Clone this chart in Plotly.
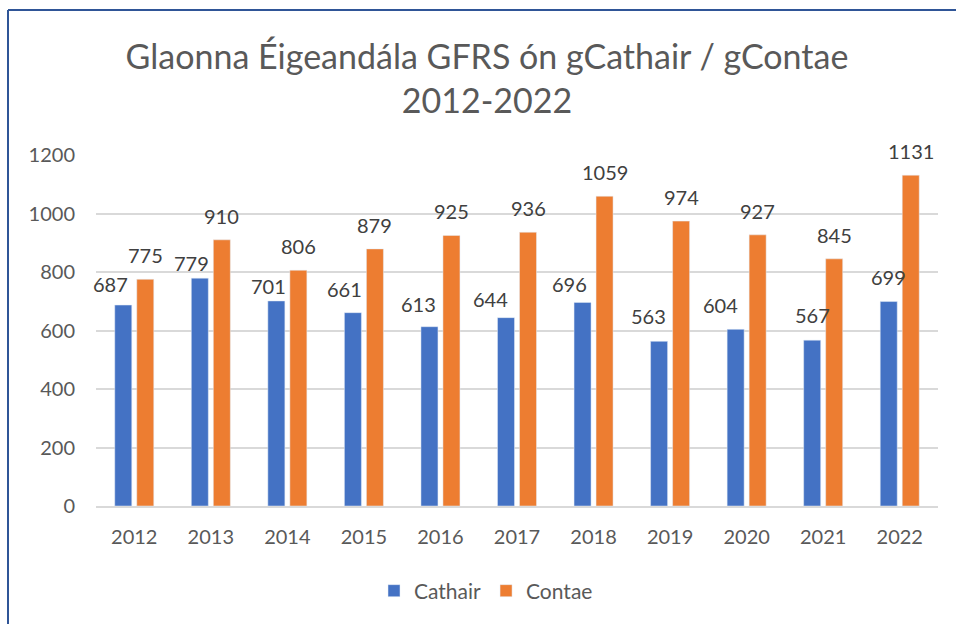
import plotly.graph_objects as go

# Emergency calls handled by GFRS, city vs county, 2012-2022
years = ["2012", "2013", "2014", "2015", "2016", "2017", "2018", "2019", "2020", "2021", "2022"]
cathair = [687, 779, 701, 661, 613, 644, 696, 563, 604, 567, 699]
contae = [775, 910, 806, 879, 925, 936, 1059, 974, 927, 845, 1131]

y_ticks = [0, 200, 400, 600, 800, 1000, 1200]

# small label nudges (pixels) for the Cathair value labels
cathair_dx = [-13, -8, -8, -8, -11, -16, -13, -11, -15, 0, 0]
cathair_dy = [-3, -9, -9, 0, -1, -5, -6, 1, 0, 1, 1]

BLUE = "#4472C4"
ORANGE = "#ED7D31"
FONT = "Lato"

W, H = 956, 624
ML, MR, MT, MB = 96, 18, 155, 118
PW, PH = W - ML - MR, H - MT - MB

fig = go.Figure()
fig.add_trace(go.Bar(name="Cathair", x=years, y=cathair, marker_color=BLUE))
fig.add_trace(go.Bar(name="Contae", x=years, y=contae, marker_color=ORANGE))

# value labels above each bar (category axis: x is the category index)
bar_offset = 11
for i, yr in enumerate(years):
    fig.add_annotation(x=i, y=cathair[i], text=str(cathair[i]), showarrow=False,
                       xshift=-bar_offset + cathair_dx[i], yshift=24 + cathair_dy[i],
                       yanchor="middle", font=dict(family=FONT, size=20, color="#404040"))
    fig.add_annotation(x=i, y=contae[i], text=str(contae[i]), showarrow=False,
                       xshift=bar_offset, yshift=24,
                       yanchor="middle", font=dict(family=FONT, size=20, color="#404040"))

def px_x(p):
    return (p - ML) / PW

def px_y(p):
    return (H - MB - p) / PH

border = "#2F5597"
fig.add_shape(type="line", xref="paper", yref="paper",
              x0=px_x(8), x1=px_x(W + 5), y0=px_y(10), y1=px_y(10),
              line=dict(color=border, width=2))
fig.add_shape(type="line", xref="paper", yref="paper",
              x0=px_x(8), x1=px_x(8), y0=px_y(10), y1=px_y(H + 5),
              line=dict(color=border, width=2))

fig.update_layout(
    width=W, height=H,
    margin=dict(l=ML, r=MR, t=MT, b=MB),
    paper_bgcolor="white", plot_bgcolor="white",
    barmode="group", bargap=0.425, bargroupgap=0.227,
    title=dict(text="Glaonna Éigeandála GFRS ón gCathair / gContae<br>2012-2022",
               x=487 / W, xanchor="center", xref="container",
               y=1 - 69 / H, yanchor="top", yref="container",
               font=dict(family=FONT, size=34, color="#595959")),
    font=dict(family=FONT, size=20, color="#595959"),
    legend=dict(orientation="h", x=px_x(486), xanchor="center",
                y=px_y(591), yanchor="middle", itemwidth=30,
                font=dict(family=FONT, size=21, color="#595959")),
    showlegend=True,
)
fig.update_xaxes(type="category", range=[-0.5, len(years) - 0.5],
                 showgrid=False, showline=True,
                 linecolor="#D9D9D9", linewidth=1.5,
                 ticks="", ticklabelstandoff=12,
                 tickfont=dict(family=FONT, size=20, color="#595959"))
fig.update_yaxes(range=[0, 1200], tickvals=y_ticks, showgrid=True,
                 gridcolor="#D9D9D9", gridwidth=1.5, zeroline=False,
                 showline=False, ticks="", ticklabelstandoff=20,
                 tickfont=dict(family=FONT, size=20, color="#595959"))

fig.write_html("out.html")
